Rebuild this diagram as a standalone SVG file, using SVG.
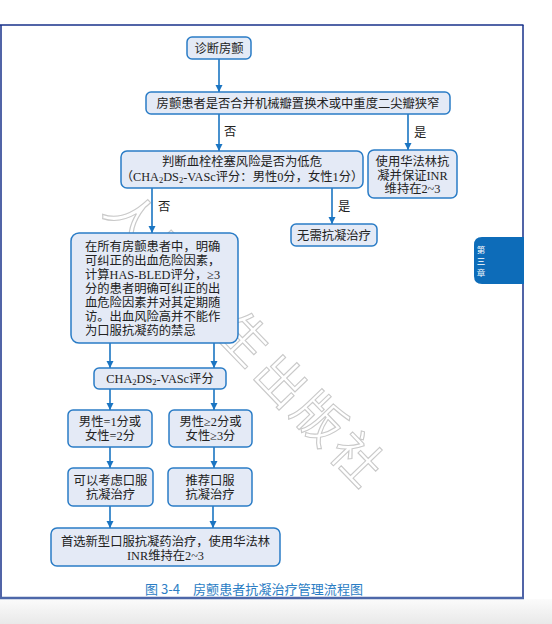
<svg xmlns="http://www.w3.org/2000/svg" width="552" height="624" viewBox="0 0 552 624">
<defs>
<style>
.box{fill:#e4eaf6;stroke:#2a7cc6;stroke-width:1.5}
.t{font-family:"Liberation Serif","Noto Sans CJK SC",serif;font-size:12.3px;fill:#222}
.m{text-anchor:middle}
.c line{stroke:#1b75c2;stroke-width:1.6;fill:none}
.wm{font-family:"Noto Sans CJK SC",sans-serif;font-size:50px;fill:none;stroke:#c9c9c9;stroke-width:1.1;text-anchor:middle;dominant-baseline:central}
.sub{font-size:8.5px}
</style>
<marker id="ah" viewBox="0 0 10 10" refX="10" refY="5" markerWidth="7" markerHeight="8" markerUnits="userSpaceOnUse" orient="auto">
<path d="M0,0 L10,5 L0,10 z" fill="#1b75c2"/>
</marker>
<linearGradient id="bg" x1="0" y1="0" x2="0" y2="1">
<stop offset="0" stop-color="#fbfbfb"/>
<stop offset="1" stop-color="#e9e9e9"/>
</linearGradient>
</defs>
<rect x="0" y="0" width="552" height="624" fill="#ffffff"/>
<rect x="0" y="599" width="552" height="25" fill="url(#bg)"/>
<g id="frame">
<line x1="0" y1="25" x2="523.5" y2="25" stroke="#17308a" stroke-width="1.5"/>
<line x1="1" y1="25" x2="1" y2="598" stroke="#17308a" stroke-width="1.5"/>
<line x1="523" y1="25" x2="523" y2="598" stroke="#17308a" stroke-width="1.5"/>
<line x1="0" y1="598" x2="524" y2="598" stroke="#4d67a9" stroke-width="2.5"/>
</g>
<g id="watermark">
<text class="wm" transform="translate(135,215) rotate(46)">人</text>
<text class="wm" transform="translate(172,256) rotate(46)">民</text>
<text class="wm" transform="translate(210,296) rotate(46)">卫</text>
<text class="wm" transform="translate(247,336) rotate(46)">生</text>
<text class="wm" transform="translate(284,378) rotate(46)">出</text>
<text class="wm" transform="translate(322,416) rotate(46)">版</text>
<text class="wm" transform="translate(360,456) rotate(46)">社</text>
</g>
<g id="tab">
<path d="M524,237 L482,237 Q474,237 474,245 L474,276 Q474,284 482,284 L524,284 Z" fill="#0d6cb9"/>
<text x="481" y="252.5" font-family="Noto Sans CJK SC,sans-serif" font-size="8.5" fill="#ffffff" text-anchor="middle">第</text>
<text x="481" y="264" font-family="Noto Sans CJK SC,sans-serif" font-size="8.5" fill="#ffffff" text-anchor="middle">三</text>
<text x="481" y="275.5" font-family="Noto Sans CJK SC,sans-serif" font-size="8.5" fill="#ffffff" text-anchor="middle">章</text>
</g>
<g id="connectors" class="c">
<line x1="219" y1="59" x2="219" y2="92" marker-end="url(#ah)"/>
<line x1="219" y1="114" x2="219" y2="151" marker-end="url(#ah)"/>
<line x1="408" y1="114" x2="408" y2="150" marker-end="url(#ah)"/>
<line x1="152" y1="188" x2="152" y2="233" marker-end="url(#ah)"/>
<line x1="332" y1="188" x2="332" y2="224" marker-end="url(#ah)"/>
<line x1="110" y1="343" x2="110" y2="368" marker-end="url(#ah)"/>
<line x1="214" y1="343" x2="214" y2="368" marker-end="url(#ah)"/>
<line x1="110" y1="389" x2="110" y2="410" marker-end="url(#ah)"/>
<line x1="214" y1="389" x2="214" y2="410" marker-end="url(#ah)"/>
<line x1="110" y1="447" x2="110" y2="468" marker-end="url(#ah)"/>
<line x1="214" y1="447" x2="214" y2="468" marker-end="url(#ah)"/>
<line x1="110" y1="506" x2="110" y2="528" marker-end="url(#ah)"/>
<line x1="213" y1="506" x2="213" y2="528" marker-end="url(#ah)"/>
<text class="t" x="224" y="136">否</text>
<text class="t" x="414" y="137">是</text>
<text class="t" x="158" y="211">否</text>
<text class="t" x="338" y="211">是</text>
</g>
<g id="n1">
<rect class="box" x="187" y="37" width="64" height="22" rx="5"/>
<text class="t m" x="219" y="52.5">诊断房颤</text>
</g>
<g id="n2">
<rect class="box" x="146" y="92" width="304" height="22" rx="5"/>
<text class="t m" x="298" y="107.5">房颤患者是否合并机械瓣置换术或中重度二尖瓣狭窄</text>
</g>
<g id="n3">
<rect class="box" x="121" y="151" width="242" height="37" rx="6"/>
<text class="t m" x="242" y="166">判断血栓栓塞风险是否为低危</text>
<text class="t m" x="242" y="181">（CHA<tspan class="sub" dy="2">2</tspan><tspan dy="-2">DS</tspan><tspan class="sub" dy="2">2</tspan><tspan dy="-2">-VASc评分：男性0分，女性1分）</tspan></text>
</g>
<g id="n4">
<rect class="box" x="368" y="150" width="89" height="48" rx="6"/>
<text class="t m" x="412.5" y="166">使用华法林抗</text>
<text class="t m" x="412.5" y="179.5">凝并保证INR</text>
<text class="t m" x="412.5" y="193">维持在2~3</text>
</g>
<g id="n5">
<rect class="box" x="291" y="224" width="86" height="22" rx="5"/>
<text class="t m" x="334" y="239.5">无需抗凝治疗</text>
</g>
<g id="n6">
<rect class="box" x="71" y="233" width="167" height="110" rx="8"/>
<text class="t" x="85" y="251">在所有房颤患者中，明确</text>
<text class="t" x="85" y="265">可纠正的出血危险因素，</text>
<text class="t" x="85" y="279">计算HAS-BLED评分，≥3</text>
<text class="t" x="85" y="293">分的患者明确可纠正的出</text>
<text class="t" x="85" y="307">血危险因素并对其定期随</text>
<text class="t" x="85" y="321">访。出血风险高并不能作</text>
<text class="t" x="85" y="335">为口服抗凝药的禁忌</text>
</g>
<g id="n7">
<rect class="box" x="94" y="368" width="132" height="21" rx="5"/>
<text class="t m" x="160" y="383">CHA<tspan class="sub" dy="2">2</tspan><tspan dy="-2">DS</tspan><tspan class="sub" dy="2">2</tspan><tspan dy="-2">-VASc评分</tspan></text>
</g>
<g id="n8">
<rect class="box" x="68" y="410" width="84" height="37" rx="5"/>
<text class="t m" x="110" y="426">男性=1分或</text>
<text class="t m" x="110" y="440">女性=2分</text>
</g>
<g id="n9">
<rect class="box" x="169" y="410" width="83" height="37" rx="5"/>
<text class="t m" x="210.5" y="426">男性≥2分或</text>
<text class="t m" x="210.5" y="440">女性≥3分</text>
</g>
<g id="n10">
<rect class="box" x="68" y="468" width="85" height="38" rx="5"/>
<text class="t m" x="110.5" y="485">可以考虑口服</text>
<text class="t m" x="110.5" y="499">抗凝治疗</text>
</g>
<g id="n11">
<rect class="box" x="168" y="468" width="84" height="38" rx="5"/>
<text class="t m" x="210" y="485">推荐口服</text>
<text class="t m" x="210" y="499">抗凝治疗</text>
</g>
<g id="n12">
<rect class="box" x="51" y="528" width="229" height="38" rx="6"/>
<text class="t m" x="165.5" y="546">首选新型口服抗凝药治疗，使用华法林</text>
<text class="t m" x="165.5" y="560">INR维持在2~3</text>
</g>
<g id="caption">
<text x="145" y="594" font-family="Noto Sans CJK SC,sans-serif" font-size="13" fill="#2b7dc4">图 3-4</text>
<text x="193" y="594" font-family="Noto Sans CJK SC,sans-serif" font-size="13" fill="#2b7dc4" textLength="170">房颤患者抗凝治疗管理流程图</text>
</g>
</svg>
